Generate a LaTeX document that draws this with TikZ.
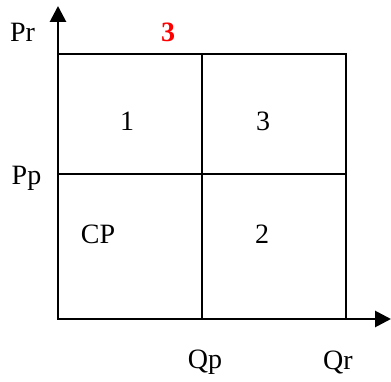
\documentclass[tikz,border=0pt]{standalone}
\usepackage{fontspec}
\setmainfont{Liberation Serif}
\usepackage{xcolor}
\usetikzlibrary{positioning, arrows.meta}

\begin{document}
\begin{tikzpicture}[
    x=1pt, y=1pt,
    lbl/.style={inner sep=0pt, font=\fontsize{28}{32}\selectfont},
    axis/.style={line width=2.8pt, -{Triangle[length=16pt,width=16pt]}},
    grid/.style={line width=2.2pt}
]
\useasboundingbox (0,0) rectangle (391,381);

% Coordinates
\coordinate (O) at (58,62);
\coordinate (ytop) at (58,375);
\coordinate (xend) at (391,62);
\coordinate (tr) at (346,327);
\coordinate (mid) at (202,207);

% Square and dividers
\draw[grid] (O) rectangle (tr);
\draw[grid] (O -| mid) -- (tr -| mid);
\draw[grid] (O |- mid) -- (tr |- mid);

% Axes
\draw[axis] (O) -- (ytop);
\draw[axis] (O) -- (xend);

% Labels
\node[lbl] (pr) at (22.5,348.5) {Pr};
\node[lbl, text=red, font=\fontsize{28}{32}\selectfont\bfseries] (top3) at (168,348.5) {3};
\node[lbl] (pp) at (26.5,203) {Pp};
\node[lbl] (qp) at (205,18.5) {Qp};
\node[lbl] (qr) at (338,18.5) {Qr};
\node[lbl] (q1) at (127,260) {1};
\node[lbl] (q3) at (263,260) {3};
\node[lbl] (cp) at (98,147) {CP};
\node[lbl] (q2) at (262,147) {2};

\end{tikzpicture}
\end{document}
